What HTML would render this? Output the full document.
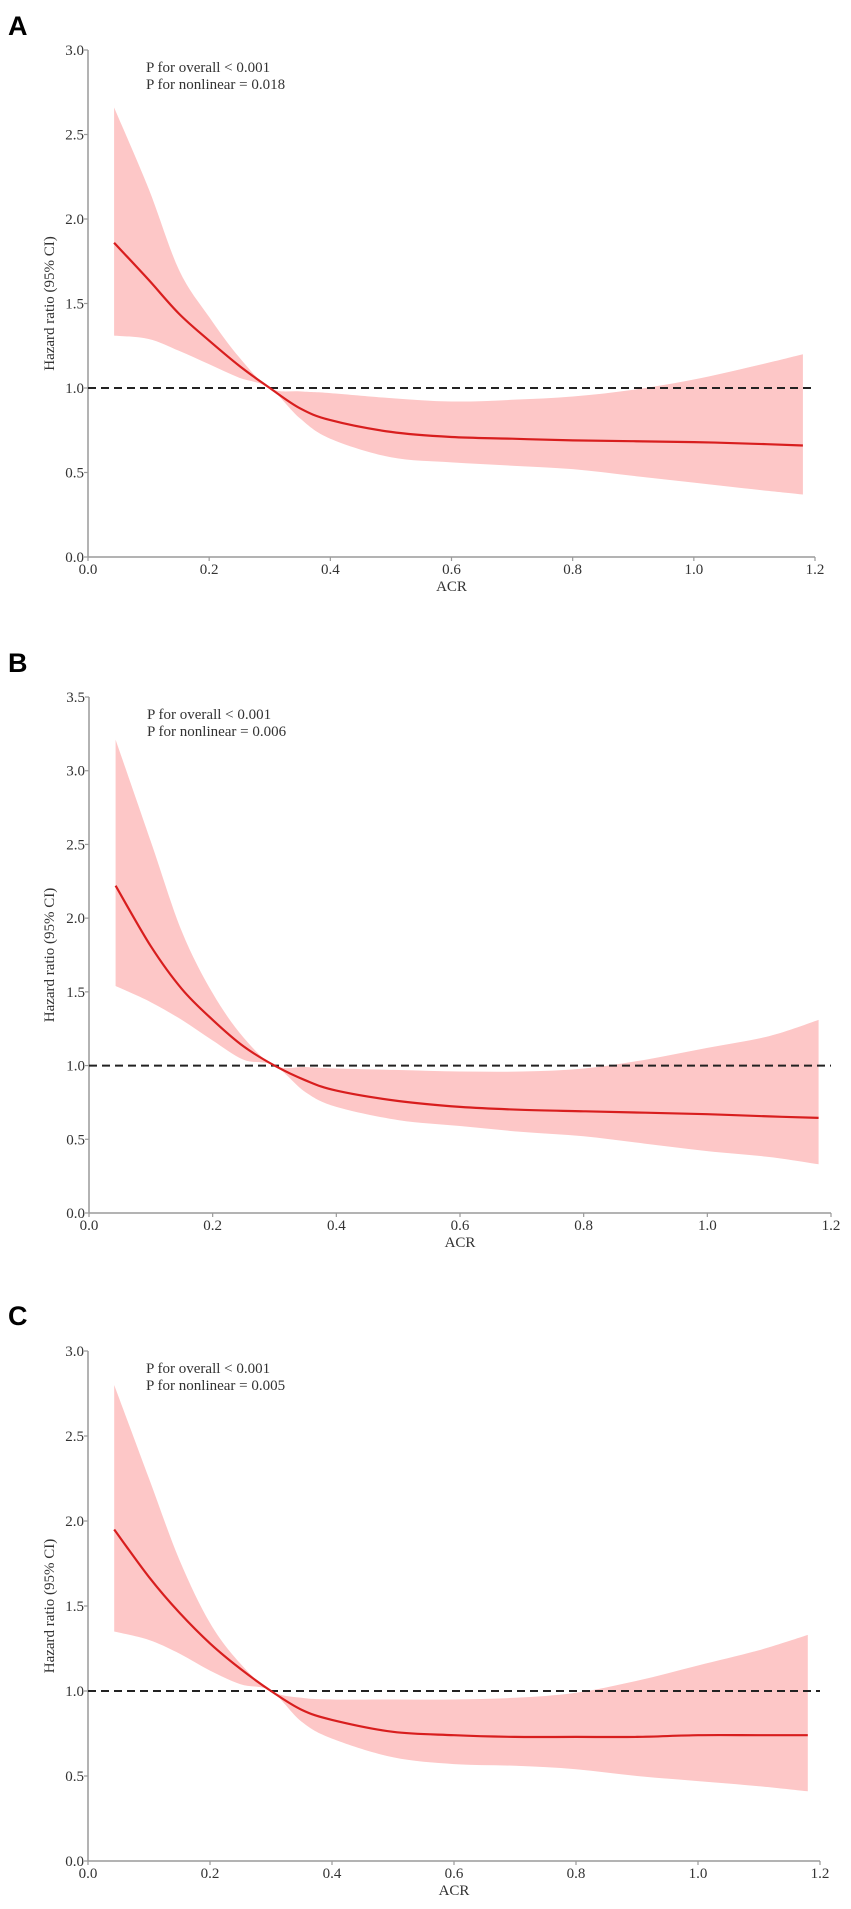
<!DOCTYPE html>
<html><head><meta charset="utf-8"><style>
html,body{margin:0;padding:0;background:#fff;}
svg{display:block;}
text{font-family:"Liberation Serif",serif;fill:#333;}
.lbl{font-family:"Liberation Sans",sans-serif;font-weight:bold;fill:#000;}
</style></head><body>
<svg id="fig" width="851" height="1909" viewBox="0 0 851 1909" xmlns="http://www.w3.org/2000/svg"></svg>
<script>
// Shared x categories (ACR values)
const acrX = [0.043,0.1,0.15,0.2,0.25,0.3,0.35,0.4,0.5,0.6,0.7,0.8,0.9,1.0,1.1,1.18];
// Panel A
const aHR    = [1.86,1.64,1.44,1.28,1.13,1.0,0.88,0.81,0.74,0.71,0.70,0.69,0.685,0.68,0.67,0.66];
const aUpper = [2.66,2.18,1.70,1.42,1.18,1.0,0.98,0.97,0.94,0.92,0.93,0.95,0.99,1.05,1.13,1.20];
const aLower = [1.31,1.29,1.22,1.14,1.06,1.0,0.82,0.70,0.59,0.56,0.54,0.52,0.48,0.44,0.40,0.37];
// Panel B
const bHR    = [2.22,1.81,1.52,1.31,1.13,1.0,0.90,0.83,0.76,0.72,0.70,0.69,0.68,0.67,0.655,0.645];
const bUpper = [3.21,2.52,1.91,1.49,1.19,1.0,0.99,0.98,0.97,0.96,0.96,0.98,1.04,1.12,1.20,1.31];
const bLower = [1.54,1.43,1.31,1.17,1.04,1.0,0.82,0.72,0.63,0.59,0.55,0.52,0.47,0.42,0.38,0.33];
// Panel C
const cHR    = [1.95,1.67,1.46,1.28,1.13,1.0,0.89,0.83,0.76,0.74,0.73,0.73,0.73,0.74,0.74,0.74];
const cUpper = [2.80,2.25,1.77,1.40,1.16,1.0,0.96,0.95,0.95,0.95,0.96,0.99,1.06,1.15,1.24,1.33];
const cLower = [1.35,1.30,1.22,1.12,1.04,1.0,0.82,0.72,0.61,0.57,0.56,0.54,0.50,0.47,0.44,0.41];
// Tick labels
const xTicks = ["0.0","0.2","0.4","0.6","0.8","1.0","1.2"];
const yTicksA = ["0.0","0.5","1.0","1.5","2.0","2.5","3.0"];
const yTicksB = ["0.0","0.5","1.0","1.5","2.0","2.5","3.0","3.5"];
const yTicksC = ["0.0","0.5","1.0","1.5","2.0","2.5","3.0"];
const pA = ["P for overall < 0.001","P for nonlinear = 0.018"];
const pB = ["P for overall < 0.001","P for nonlinear = 0.006"];
const pC = ["P for overall < 0.001","P for nonlinear = 0.005"];

const NS="http://www.w3.org/2000/svg";
const svg=document.getElementById('fig');
function mk(tag,attrs,parent){const e=document.createElementNS(NS,tag);for(const k in attrs)e.setAttribute(k,attrs[k]);(parent||svg).appendChild(e);return e;}

// Catmull-Rom smooth path through points; start with M if first
function smooth(pts,first){
  let d=(first?'M':'L')+pts[0][0].toFixed(1)+','+pts[0][1].toFixed(1);
  for(let i=0;i<pts.length-1;i++){
    const p0=pts[i-1]||pts[i],p1=pts[i],p2=pts[i+1],p3=pts[i+2]||pts[i+1];
    const c1=[p1[0]+(p2[0]-p0[0])/6,p1[1]+(p2[1]-p0[1])/6];
    const c2=[p2[0]-(p3[0]-p1[0])/6,p2[1]-(p3[1]-p1[1])/6];
    d+='C'+c1[0].toFixed(1)+','+c1[1].toFixed(1)+' '+c2[0].toFixed(1)+','+c2[1].toFixed(1)+' '+p2[0].toFixed(1)+','+p2[1].toFixed(1);
  }
  return d;
}

function panel(key,letter,letterY,x0,x12,y0,yTop,yTicks,hr,up,lo,ptxt){
  const g=mk('g',{});
  
  
  const yMax=parseFloat(yTicks[yTicks.length-1]);
  const sx=v=>x0+(v/1.2)*(x12-x0);
  const sy=v=>y0-(v/yMax)*(y0-yTop);
  const L=mk('text',{x:8,y:letterY,'font-size':27,class:'lbl'},g);L.textContent=letter;
  
  
  const upPts=acrX.map((x,i)=>[sx(x),sy(up[i])]);
  const loPts=acrX.map((x,i)=>[sx(x),sy(lo[i])]).reverse();
  const band=mk('path',{d:smooth(upPts,true)+smooth(loPts,false)+'Z',fill:'#fdc7c7',stroke:'none'},g);
  
  
  const ya=mk('line',{x1:x0,y1:yTop,x2:x0,y2:y0,stroke:'#9a9a9a','stroke-width':1.5},g);
  
  
  const xa=mk('line',{x1:x0,y1:y0,x2:x12,y2:y0,stroke:'#9a9a9a','stroke-width':1.5},g);
  
  
  yTicks.forEach(t=>{const v=parseFloat(t),y=sy(v);
    mk('line',{x1:x0-4,y1:y,x2:x0,y2:y,stroke:'#9a9a9a','stroke-width':1.2},g);
    const tx=mk('text',{x:x0-4,y:y+5,'font-size':15,'text-anchor':'end'},g);tx.textContent=t;
    
    });
  xTicks.forEach(t=>{const v=parseFloat(t),x=sx(v);
    mk('line',{x1:x,y1:y0,x2:x,y2:y0+4,stroke:'#9a9a9a','stroke-width':1.2},g);
    const tx=mk('text',{x:x,y:y0+17,'font-size':15,'text-anchor':'middle'},g);tx.textContent=t;
    
    });
  const ref=mk('line',{x1:x0,y1:sy(1),x2:x12,y2:sy(1),stroke:'#222','stroke-width':2,'stroke-dasharray':'8,5'},g);
  
  
  const hrPts=acrX.map((x,i)=>[sx(x),sy(hr[i])]);
  const cur=mk('path',{d:smooth(hrPts,true),fill:'none',stroke:'#d81e1e','stroke-width':2.2,'stroke-linejoin':'round'},g);
  
  
  ptxt.forEach((s,i)=>{const t=mk('text',{x:x0+58,y:yTop+22+i*17,'font-size':15},g);t.textContent=s;
    
    });
  const xt=mk('text',{x:(x0+x12)/2,y:y0+34,'font-size':15,'text-anchor':'middle'},g);xt.textContent='ACR';
  
  
  const cy=(y0+yTop)/2;
  const yt=mk('text',{x:54,y:cy,'font-size':15,'text-anchor':'middle',transform:'rotate(-90 54 '+cy+')'},g);yt.textContent='Hazard ratio (95% CI)';
  
  
}
panel('a','A',35,88,815,557,50,yTicksA,aHR,aUpper,aLower,pA);
panel('b','B',672,89,831,1213,697,yTicksB,bHR,bUpper,bLower,pB);
panel('c','C',1325,88,820,1861,1351,yTicksC,cHR,cUpper,cLower,pC);
</script>
</body></html>
